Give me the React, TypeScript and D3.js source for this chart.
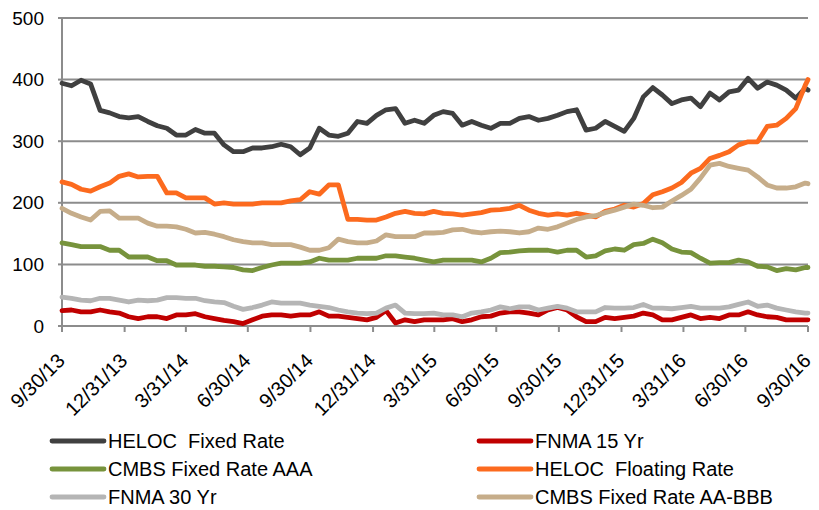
import React from "react";
import * as d3 from "d3";

const tickLabels = ["9/30/13","12/31/13","3/31/14","6/30/14","9/30/14","12/31/14","3/31/15","6/30/15","9/30/15","12/31/15","3/31/16","6/30/16","9/30/16"];
const yTicks = [0, 100, 200, 300, 400, 500];

// biweekly observations from 9/30/13, last one on 9/30/16
const startDate = "9/30/13";
const endDate = "9/30/16";
const stepDays = 14;
const nSteps = 79;

const helocFixed = [
  394,390,399,393,350,346,340,338,340,332,
  325,321,310,310,319,313,313,294,283,283,
  289,289,291,295,291,278,289,321,310,308,
  313,332,329,342,351,353,329,334,329,342,
  348,345,326,332,326,321,329,329,337,340,
  334,337,342,348,351,318,321,332,324,316,
  337,372,387,375,361,367,370,356,378,367,
  380,383,402,386,396,391,383,370,386,383];
const fnma15 = [
  25,26,23,23,26,23,21,15,12,15,
  15,12,18,18,20,15,12,9,7,4,
  10,16,18,18,16,18,18,23,16,16,
  14,12,10,14,25,5,10,7,10,10,
  10,12,7,10,15,16,21,23,23,21,
  18,26,30,26,15,7,7,14,12,14,
  16,21,18,10,10,14,18,12,14,12,
  18,18,23,18,15,14,10,10,10,10];
const cmbsAAA = [
  135,132,129,129,129,123,123,112,112,112,
  106,106,99,99,99,97,97,96,95,91,
  90,95,99,102,102,102,104,110,107,107,
  107,110,110,110,114,114,112,110,107,104,
  107,107,107,107,104,110,119,120,122,123,
  123,123,120,123,123,112,114,122,125,123,
  132,134,141,135,125,120,119,110,102,103,
  103,107,104,97,96,90,93,91,95,95];
const helocFloating = [
  234,230,222,219,226,232,243,247,242,243,
  243,216,216,208,208,208,198,200,198,198,
  198,200,200,200,203,205,218,214,229,229,
  173,173,172,172,177,183,186,183,182,186,
  183,182,180,182,184,188,189,191,196,188,
  183,180,182,180,183,180,177,186,190,196,
  193,199,213,218,224,233,248,256,272,277,
  283,294,299,299,324,326,337,353,391,400];
const fnma30 = [
  47,45,42,41,45,45,42,39,42,41,
  42,46,46,45,45,41,39,38,32,27,
  30,34,39,37,37,37,34,32,30,26,
  23,21,20,21,29,34,21,20,20,21,
  18,18,15,21,23,26,31,28,31,31,
  26,29,32,29,23,23,23,30,29,29,
  30,35,29,29,28,30,32,29,29,29,
  31,35,39,32,34,29,26,23,21,21];
const cmbsAABBB = [
  191,183,177,172,186,187,175,175,175,167,
  162,162,161,157,151,152,149,145,140,137,
  135,135,132,132,132,128,123,123,127,141,
  137,135,135,138,148,145,145,145,151,151,
  152,156,157,153,151,153,154,153,151,153,
  159,157,161,167,173,177,179,184,188,193,
  198,196,192,193,203,212,222,240,261,264,
  259,256,253,242,229,224,224,226,232,231];

const seriesNames = ["HELOC\u00A0 Fixed Rate","FNMA 15 Yr","CMBS Fixed Rate AAA","HELOC\u00A0 Floating Rate","FNMA 30 Yr","CMBS Fixed Rate AA-BBB"];
const seriesValues = [helocFixed, fnma15, cmbsAAA, helocFloating, fnma30, cmbsAABBB];
const seriesColors = ["#404040","#C00000","#77933C","#FC6A1E","#B5B5B5","#C6AD8A"];

const parse = d3.timeParse("%m/%d/%y");

export default function App() {
  const W = 819, H = 510;
  const left = 62, right = 808, top = 18, bottom = 326;
  const start = parse(startDate)!;
  const end = parse(endDate)!;
  const dates: Date[] = d3.range(nSteps).map(k => d3.timeDay.offset(start, k * stepDays));
  dates.push(end);

  const x = d3.scaleTime().domain([start, end]).range([left, right]);
  const y = d3.scaleLinear().domain([0, 500]).range([bottom, top]);
  const line = d3.line<number>().x((_, i) => x(dates[i])).y(v => y(v));

  const font = "'Liberation Sans', Arial, sans-serif";
  const gridColor = "#8C8C8C";

  const legendRows = [441, 469, 497];
  const legendCols = [52, 479];

  return (
    <svg width={W} height={H} style={{ position: "absolute", left: 0, top: 0, background: "#fff" }}>
      {yTicks.filter(t => t > 0).map(t => (
        <line key={t} x1={left} x2={right} y1={y(t)} y2={y(t)} stroke={gridColor} strokeWidth={2} />
      ))}
      <line x1={left} x2={left} y1={top} y2={bottom} stroke={gridColor} strokeWidth={2} />
      <line x1={left} x2={right} y1={bottom} y2={bottom} stroke={gridColor} strokeWidth={2} />
      {yTicks.map(t => (
        <g key={"y" + t}>
          <line x1={left - 4} x2={left} y1={y(t)} y2={y(t)} stroke={gridColor} strokeWidth={2} />
          <text x={44} y={y(t)} dy="0.35em" textAnchor="end" fontFamily={font} fontSize={19} fill="#000">{t}</text>
        </g>
      ))}
      {tickLabels.map(lbl => {
        const tx = x(parse(lbl)!);
        return (
          <g key={lbl}>
            <line x1={tx} x2={tx} y1={bottom} y2={bottom + 6} stroke={gridColor} strokeWidth={2} />
            <text transform={`translate(${tx + 4},${bottom + 36}) rotate(-45)`} textAnchor="end" fontFamily={font} fontSize={20} fill="#000">{lbl}</text>
          </g>
        );
      })}
      {seriesValues.map((vals, i) => (
        <path key={seriesNames[i]} d={line(vals)!} fill="none" stroke={seriesColors[i]} strokeWidth={4.8} strokeLinejoin="round" strokeLinecap="round" />
      ))}
      {seriesNames.map((name, i) => {
        const col = i % 2, row = Math.floor(i / 2);
        const lx = legendCols[col], ly = legendRows[row];
        return (
          <g key={"leg" + name}>
            <line x1={lx} x2={lx + 52} y1={ly} y2={ly} stroke={seriesColors[i]} strokeWidth={4.8} strokeLinecap="round" />
            <text x={lx + 56} y={ly + 7} fontFamily={font} fontSize={20} fill="#000">{name}</text>
          </g>
        );
      })}
    </svg>
  );
}
